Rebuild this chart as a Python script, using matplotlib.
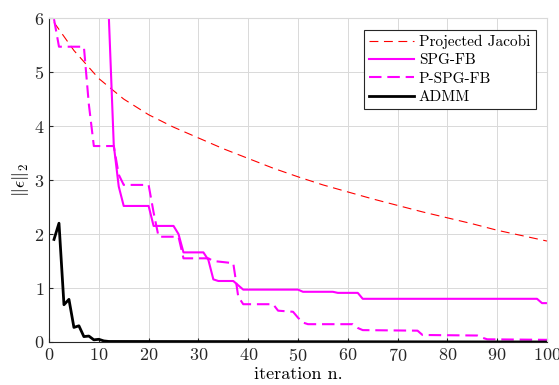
import matplotlib
matplotlib.use('Agg')
import matplotlib.pyplot as plt

plt.rcParams['font.family'] = ['cmr10', 'DejaVu Serif']
plt.rcParams['mathtext.fontset'] = 'cm'
plt.rcParams['axes.formatter.use_mathtext'] = True

# Projected Jacobi (read every 5 iterations)
jac_x = [1, 5, 10, 15, 20, 25, 30, 35, 40, 45, 50, 55, 60, 65, 70, 75, 80, 85, 90, 95, 100]
jac_y = [5.92, 5.40, 4.88, 4.50, 4.21, 3.98, 3.78, 3.58, 3.40, 3.22, 3.06, 2.91, 2.78,
         2.65, 2.53, 2.41, 2.30, 2.19, 2.07, 1.97, 1.87]

# SPG-FB
spg_x = [11, 12, 13, 14, 15, 20, 21, 25, 26, 27, 31, 32, 33, 34, 37, 38, 39,
         50, 51, 57, 58, 62, 63, 98, 99, 100]
spg_y = [9.5, 6.05, 3.65, 2.88, 2.52, 2.52, 2.15, 2.15, 2.00, 1.66, 1.66, 1.52, 1.16, 1.13,
         1.13, 1.05, 0.97, 0.97, 0.93, 0.93, 0.91, 0.91, 0.80, 0.80, 0.72, 0.72]

# P-SPG-FB
pspg_x = [1, 2, 7, 8, 9, 13, 14, 15, 20, 21, 22, 26, 27, 32, 33, 37, 38, 39, 45, 46,
          49, 50, 51, 52, 61, 62, 63, 74, 75, 86, 87, 88, 100]
pspg_y = [5.98, 5.47, 5.47, 4.40, 3.63, 3.63, 3.10, 2.91, 2.91, 2.40, 1.95, 1.95, 1.55,
          1.55, 1.50, 1.46, 0.84, 0.70, 0.70, 0.58, 0.56, 0.45, 0.36, 0.33, 0.33, 0.26,
          0.22, 0.21, 0.13, 0.12, 0.08, 0.05, 0.04]

# ADMM
admm_x = [1, 2, 3, 4, 5, 6, 7, 8, 9, 10, 11, 12, 100]
admm_y = [1.90, 2.20, 0.69, 0.79, 0.27, 0.30, 0.10, 0.11, 0.04, 0.05, 0.02, 0.01, 0.0]

fig = plt.figure(figsize=(5.59, 3.85), dpi=100)
ax = fig.add_axes([0.0877, 0.1117, 0.8908, 0.8413])

ax.plot(jac_x, jac_y, '--', color='#ff0000', lw=0.8, dashes=(8, 5), label='Projected Jacobi')
ax.plot(spg_x, spg_y, '-', color='#ff00ff', lw=1.5, label='SPG-FB')
ax.plot(pspg_x, pspg_y, '--', color='#ff00ff', lw=1.5, dashes=(6, 2.8), label='P-SPG-FB')
ax.plot(admm_x, admm_y, '-', color='black', lw=2, label='ADMM')

ax.set_xlim(0, 100)
ax.set_ylim(0, 6)
ax.set_xticks(range(0, 101, 10))
ax.set_yticks(range(0, 7))
ax.grid(True, color='#d9d9d9', lw=0.7)
ax.set_axisbelow(True)
ax.tick_params(direction='in', labelsize=13, colors='#262626', length=3)
for s in ['top', 'right']:
    ax.spines[s].set_color('#d9d9d9')
for s in ['left', 'bottom']:
    ax.spines[s].set_color('#262626')

ax.set_xlabel('iteration n.', fontsize=13, labelpad=2)
ax.set_ylabel(r'$\|\epsilon\|_2$', fontsize=13, labelpad=2)

leg = ax.legend(loc='upper right', fontsize=11, handlelength=2.9, fancybox=False,
                edgecolor='#262626', framealpha=1, borderpad=0.35, labelspacing=0.3,
                handletextpad=0.35, borderaxespad=0.75)
leg.get_frame().set_linewidth(0.8)

fig.savefig('out.png', dpi=100)
